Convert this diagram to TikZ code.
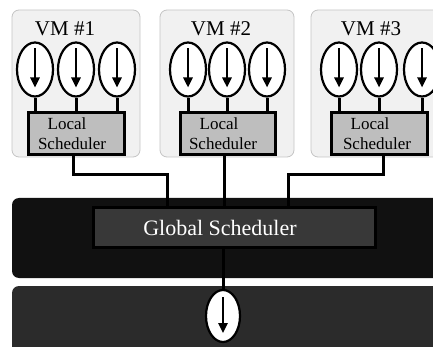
\documentclass[tikz,border=0pt]{standalone}
\usepackage{fontspec}
\setmainfont{Liberation Serif}
\usetikzlibrary{shapes.geometric,arrows.meta,calc}
\definecolor{vmfill}{HTML}{F1F1F1}
\definecolor{vmline}{HTML}{C4C4C4}
\definecolor{lsfill}{HTML}{BEBEBE}
\definecolor{bandA}{HTML}{111111}
\definecolor{bandB}{HTML}{2B2B2B}
\definecolor{gsfill}{HTML}{383838}
\tikzset{
  vmbox/.style={fill=vmfill,draw=vmline,line width=0.8pt,rounded corners=7pt},
  thread/.style={ellipse,draw=black,fill=white,line width=2.2pt,minimum width=36pt,minimum height=54pt,inner sep=0pt},
  tarrow/.style={line width=2.4pt,-{Triangle[length=10pt,width=9pt]}},
  lsbox/.style={draw=black,fill=lsfill,line width=3pt},
  conn/.style={line width=3pt},
  vmlabel/.style={font=\fontsize{21}{24}\selectfont,inner sep=0pt},
  lstext/.style={font=\fontsize{17}{20}\selectfont,inner sep=0pt,align=center},
}
\begin{document}
\begin{tikzpicture}[x=1pt,y=-1pt]
\useasboundingbox (0,0) rectangle (433,347);
\clip (0,0) rectangle (433,347);
% VM boxes
\path[vmbox] (12,10) rectangle (140,157);
\path[vmbox] (160,10) rectangle (294,157);
\path[vmbox] (311,10) rectangle (450,157);
\node[vmlabel,anchor=base] (v1) at (65,36) {VM \#1};
\node[vmlabel,anchor=base] (v2) at (221,36) {VM \#2};
\node[vmlabel,anchor=base] (v3) at (371,36) {VM \#3};
% bands
\path[fill=bandA,rounded corners=7pt] (12,198) rectangle (460,278);
\path[fill=bandB,rounded corners=7pt] (12,286) rectangle (460,370);
% local schedulers
\node[lsbox,minimum width=96pt,minimum height=42pt,inner sep=0pt] (lb1) at (76,134) {};
\node[lsbox,minimum width=95pt,minimum height=42pt,inner sep=0pt] (lb2) at (227.5,134) {};
\node[lsbox,minimum width=96pt,minimum height=42pt,inner sep=0pt] (lb3) at (379,134) {};
\node[lstext,anchor=base] (l1a) at (67,130) {Local};
\node[lstext,anchor=base] (l1b) at (72,150) {Scheduler};
\node[lstext,anchor=base] (l2a) at (219,130) {Local};
\node[lstext,anchor=base] (l2b) at (223,150) {Scheduler};
\node[lstext,anchor=base] (l3a) at (370,130) {Local};
\node[lstext,anchor=base] (l3b) at (377,150) {Scheduler};
% threads
\foreach \n/\x in {11/35,12/76,13/117,21/188,22/227,23/267,31/339,32/379,33/422}{
  \node[thread] (e\n) at (\x,69.5) {};
  \draw[tarrow] ($(e\n.center)+(0,-21)$) -- ($(e\n.center)+(0,18)$);
}
\foreach \n/\b in {11/1,12/1,13/1,21/2,22/2,23/2,31/3,32/3,33/3}{
  \draw[conn] (e\n.south) -- (e\n.south |- lb\b.north);
}
% global scheduler
\node[draw=black,fill=gsfill,line width=3pt,minimum width=282pt,minimum height=39pt,inner sep=0pt] (gs) at (234,227.5) {};
\node[font=\fontsize{22}{26}\selectfont,text=white,inner sep=0pt,anchor=base] (gst) at (220,235) {Global Scheduler};
% connectors
\coordinate (g1) at (167,208);
\coordinate (g2) at (224,208);
\coordinate (g3) at (288,208);
\draw[conn] ([xshift=-3pt]lb1.south) -- ++(0,18) -| (g1);
\draw[conn] ([xshift=-3.5pt]lb2.south) -- (g2);
\draw[conn] ([xshift=4pt]lb3.south) -- ++(0,18) -| (g3);
% bottom thread
\node[thread,minimum width=34pt,minimum height=52pt] (be) at (223,316) {};
\draw[tarrow] ($(be.center)+(0,-19)$) -- ($(be.center)+(0,17)$);
\draw[conn] (be.north |- gs.south) -- (be.north);
\end{tikzpicture}
\end{document}
